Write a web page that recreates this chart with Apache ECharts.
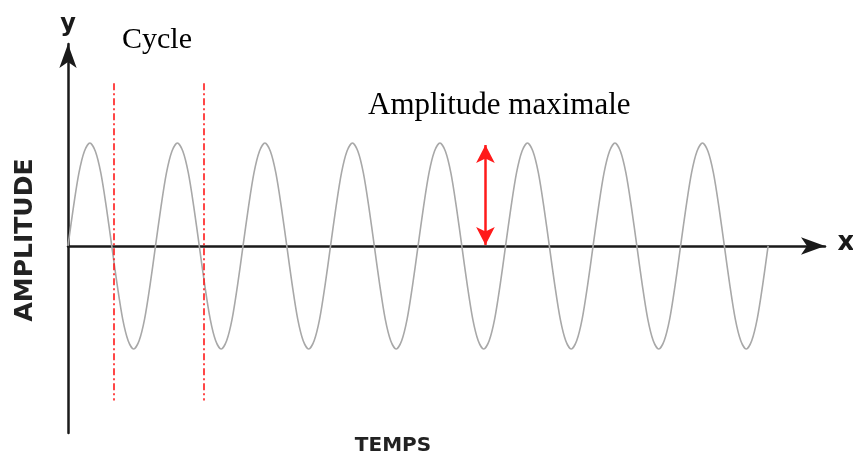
<!DOCTYPE html>
<html>
<head>
<meta charset="utf-8">
<script src="https://cdn.jsdelivr.net/npm/echarts@6/dist/echarts.min.js"></script>
<style>
  html, body { margin: 0; padding: 0; background: #fff; }
  #chart { width: 853px; height: 461px; }
</style>
</head>
<body>
<div id="chart"></div>
<script>
// amplitude read every 1/16 of a cycle, 8 cycles
const waveValues = [
  0, 0.38, 0.71, 0.92, 1, 0.92, 0.71, 0.38, 0, -0.38, -0.71, -0.92, -1, -0.92, -0.71, -0.38,
  0, 0.38, 0.71, 0.92, 1, 0.92, 0.71, 0.38, 0, -0.38, -0.71, -0.92, -1, -0.92, -0.71, -0.38,
  0, 0.38, 0.71, 0.92, 1, 0.92, 0.71, 0.38, 0, -0.38, -0.71, -0.92, -1, -0.92, -0.71, -0.38,
  0, 0.38, 0.71, 0.92, 1, 0.92, 0.71, 0.38, 0, -0.38, -0.71, -0.92, -1, -0.92, -0.71, -0.38,
  0, 0.38, 0.71, 0.92, 1, 0.92, 0.71, 0.38, 0, -0.38, -0.71, -0.92, -1, -0.92, -0.71, -0.38,
  0, 0.38, 0.71, 0.92, 1, 0.92, 0.71, 0.38, 0, -0.38, -0.71, -0.92, -1, -0.92, -0.71, -0.38,
  0, 0.38, 0.71, 0.92, 1, 0.92, 0.71, 0.38, 0, -0.38, -0.71, -0.92, -1, -0.92, -0.71, -0.38,
  0, 0.38, 0.71, 0.92, 1, 0.92, 0.71, 0.38, 0, -0.38, -0.71, -0.92, -1, -0.92, -0.71, -0.38,
  0
]
const stepPerPoint = 0.0625   // one point every 1/16 cycle

// red cycle markers (x in cycles), vertical extent in amplitude units
const cycleMarkers = [0.52, 1.55]
const markerRange = [-1.5, 1.58]

// red double arrow for the max amplitude
const ampArrowX = 4.77
const ampArrowRange = [0.01, 0.98]

const chart = echarts.init(document.getElementById('chart'))

const wavePoints = waveValues.map((v, i) => [i * stepPerPoint, v])

const markData = cycleMarkers.map(x => [
  { coord: [x, markerRange[1]], symbol: 'none' },
  { coord: [x, markerRange[0]], symbol: 'none' }
])
markData.push([
  { coord: [ampArrowX, ampArrowRange[0]], symbol: 'arrow', symbolSize: [14, 18],
    lineStyle: { type: 'solid', width: 2.5 } },
  { coord: [ampArrowX, ampArrowRange[1]], symbol: 'arrow', symbolSize: [14, 18],
    lineStyle: { type: 'solid', width: 2.5 } }
])

const axisLineStyle = { color: '#1a1a1a', width: 2.5 }

chart.setOption({
  animation: false,
  grid: { left: 68, right: 28, top: 44, bottom: 28 },
  xAxis: {
    type: 'value',
    min: 0,
    max: 8.65,
    axisLine: { onZero: true, lineStyle: axisLineStyle, symbol: ['none', 'arrow'], symbolSize: [13, 24] },
    axisTick: { show: false },
    axisLabel: { show: false },
    splitLine: { show: false }
  },
  yAxis: {
    type: 'value',
    min: -1.816,
    max: 1.961,
    axisLine: { onZero: true, lineStyle: axisLineStyle, symbol: ['none', 'arrow'], symbolSize: [13, 24] },
    axisTick: { show: false },
    axisLabel: { show: false },
    splitLine: { show: false }
  },
  series: [
    {
      type: 'line',
      data: wavePoints,
      smooth: 0.3,
      symbol: 'none',
      lineStyle: { color: '#a8a8a8', width: 1.6 },
      markLine: {
        silent: true,
        animation: false,
        label: { show: false },
        lineStyle: { color: '#ff1a1a', width: 1.6, type: [7, 3, 2, 3] },
        data: markData
      }
    }
  ],
  graphic: [
    { type: 'text', style: { text: 'y', x: 68, y: 25, align: 'center', verticalAlign: 'middle',
      font: 'bold 24px "DejaVu Sans"', fill: '#1a1a1a' } },
    { type: 'text', style: { text: 'x', x: 846, y: 243, align: 'center', verticalAlign: 'middle',
      font: 'bold 26px "DejaVu Sans"', fill: '#1a1a1a' } },
    { type: 'text', style: { text: 'Cycle', x: 122, y: 40, align: 'left', verticalAlign: 'middle',
      font: '30px "Liberation Serif"', fill: '#000' } },
    { type: 'text', style: { text: 'Amplitude maximale', x: 368, y: 106, align: 'left', verticalAlign: 'middle',
      font: '31px "Liberation Serif"', fill: '#000' } },
    { type: 'text', x: 25, y: 240, rotation: Math.PI / 2,
      style: { text: 'AMPLITUDE', x: 0, y: 0, align: 'center', verticalAlign: 'middle',
      font: 'bold 25px "DejaVu Sans"', fill: '#222' } },
    { type: 'text', style: { text: 'TEMPS', x: 393, y: 446, align: 'center', verticalAlign: 'middle',
      font: 'bold 20px "DejaVu Sans"', fill: '#222' } }
  ]
})
</script>
</body>
</html>
